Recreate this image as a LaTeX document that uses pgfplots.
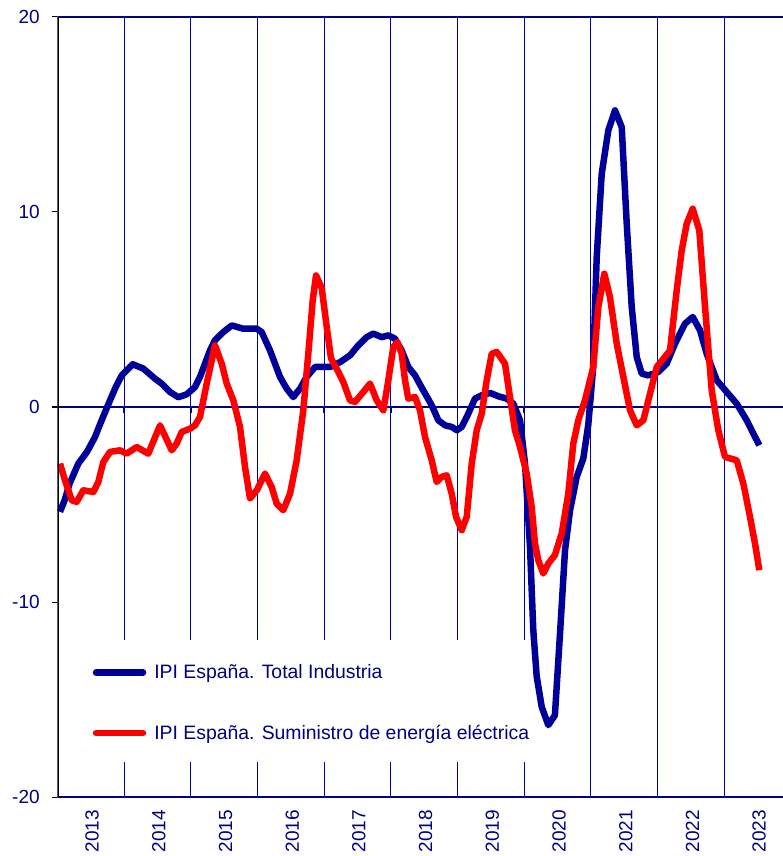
\documentclass[border=0pt]{standalone}
\usepackage{fontspec}
\setmainfont{Liberation Sans}
\usepackage{pgfplots}
\pgfplotsset{compat=1.18}
\definecolor{txtnavy}{RGB}{0,0,128}
\definecolor{ipiblue}{RGB}{0,0,153}
\definecolor{gridblue}{RGB}{0,0,170}
\definecolor{ipired}{RGB}{255,0,0}
\begin{document}
\begin{tikzpicture}
\begin{axis}[
  at={(0pt,0pt)}, anchor=south west,
  scale only axis, width=725.7pt, height=780.6pt,
  xmin=2013, xmax=2023.88, ymin=-20, ymax=20,
  axis line style={draw=none},
  xtick={2013.5,2014.5,2015.5,2016.5,2017.5,2018.5,2019.5,2020.5,2021.5,2022.5,2023.5},
  xticklabels={2013,2014,2015,2016,2017,2018,2019,2020,2021,2022,2023},
  xtick style={draw=none,/pgfplots/major tick length=0pt},
  xticklabel style={yshift=-7pt, xshift=1.5pt, rotate=90, anchor=east, inner sep=0pt,
     font=\fontsize{19}{19}\selectfont, text=txtnavy},
  minor xtick={2014,2015,2016,2017,2018,2019,2020,2021,2022,2023},
  xminorgrids, minor grid style={gridblue, line width=1pt},
  minor tick length=0pt,
  ytick={-20,-10,0,10,20},
  yticklabels={-20,-10,0,10,20},
  tick align=outside,
  ytick style={black, line width=1.2pt},
  major tick length=5.5pt,
  yticklabel style={anchor=east, inner sep=0pt, xshift=-12pt,
     font=\fontsize{19}{19}\selectfont, text=txtnavy},
  legend style={draw=none, fill=none, inner sep=0pt,
     at={(axis cs:2013.529,-13.09)}, anchor=north west,
     font=\fontsize{19.4}{19.4}\selectfont, text=txtnavy,
     row sep=41pt, column sep=6pt},
  legend cell align=left,
  legend image code/.code={\draw[#1, line cap=round] (0pt,0pt) -- (47pt,0pt);},
]
\fill[white] (axis cs:2013,-11.95) rectangle (axis cs:2020.162,-18.19);
\draw[txtnavy, line width=2pt] (axis cs:2013,0) -- (axis cs:2023.88,0);
\pgfplotsinvokeforeach{2014,2015,2016,2017,2018,2019,2020,2021,2022,2023}{
  \draw[txtnavy, line width=1.6pt] (axis cs:#1,0) -- ([yshift=-6pt]axis cs:#1,0);
}
\addplot[ipiblue, line width=6.5pt, line join=round] coordinates {
(2013.040,-5.37) (2013.110,-4.78) (2013.185,-3.92) (2013.315,-2.90) (2013.445,-2.30)
(2013.565,-1.54) (2013.665,-0.68) (2013.790,0.34) (2013.880,1.05) (2013.966,1.62)
(2014.130,2.19) (2014.289,1.97) (2014.465,1.45) (2014.565,1.20) (2014.690,0.77)
(2014.814,0.50) (2014.940,0.65) (2015.064,1.02) (2015.139,1.54) (2015.289,2.90)
(2015.364,3.42) (2015.489,3.84) (2015.615,4.18) (2015.789,4.01) (2015.990,4.01)
(2016.064,3.84) (2016.189,2.90) (2016.339,1.54) (2016.439,0.94) (2016.538,0.51)
(2016.639,0.94) (2016.739,1.54) (2016.864,2.05) (2017.090,2.05) (2017.240,2.30)
(2017.390,2.65) (2017.513,3.16) (2017.639,3.58) (2017.738,3.76) (2017.864,3.58)
(2017.963,3.67) (2018.063,3.50) (2018.163,2.90) (2018.262,2.05) (2018.363,1.62)
(2018.487,0.85) (2018.613,0.09) (2018.712,-0.68) (2018.813,-0.94) (2018.913,-1.02)
(2018.990,-1.19) (2019.063,-1.02) (2019.162,-0.34) (2019.262,0.43) (2019.363,0.60)
(2019.487,0.72) (2019.612,0.55) (2019.738,0.43) (2019.837,0.17) (2019.937,-0.68)
(2020.012,-2.90) (2020.087,-7.17) (2020.136,-11.43) (2020.187,-13.80) (2020.262,-15.36)
(2020.361,-16.30) (2020.460,-15.80) (2020.537,-11.60) (2020.612,-7.34) (2020.687,-5.30)
(2020.787,-3.58) (2020.886,-2.64) (2020.961,-0.90) (2021.031,1.90) (2021.087,7.68)
(2021.162,11.95) (2021.261,14.17) (2021.361,15.20) (2021.462,14.34) (2021.537,9.39)
(2021.612,5.12) (2021.687,2.56) (2021.762,1.71) (2021.861,1.62) (2022.010,1.79)
(2022.136,2.22) (2022.261,3.25) (2022.411,4.27) (2022.526,4.61) (2022.636,3.93)
(2022.736,2.73) (2022.886,1.37) (2023.036,0.77) (2023.186,0.17) (2023.336,-0.68)
(2023.435,-1.36) (2023.525,-1.96)
};
\addlegendentry{IPI España. Total Industria}
\addplot[ipired, line width=6.5pt, line join=round] coordinates {
(2013.040,-2.90) (2013.115,-3.75) (2013.216,-4.78) (2013.291,-4.86) (2013.390,-4.27)
(2013.540,-4.35) (2013.615,-3.84) (2013.690,-2.82) (2013.790,-2.30) (2013.940,-2.22)
(2014.040,-2.39) (2014.190,-2.05) (2014.364,-2.39) (2014.540,-0.94) (2014.715,-2.22)
(2014.790,-1.87) (2014.865,-1.28) (2014.990,-1.11) (2015.064,-0.94) (2015.139,-0.51)
(2015.240,1.20) (2015.364,3.16) (2015.465,2.22) (2015.540,1.20) (2015.639,0.34)
(2015.739,-1.02) (2015.814,-3.07) (2015.889,-4.69) (2015.990,-4.27) (2016.114,-3.41)
(2016.214,-4.10) (2016.289,-4.95) (2016.388,-5.29) (2016.489,-4.44) (2016.589,-2.73)
(2016.688,-0.17) (2016.763,2.73) (2016.829,5.46) (2016.879,6.74) (2016.964,6.10)
(2017.043,4.00) (2017.103,2.50) (2017.213,1.80) (2017.288,1.28) (2017.388,0.34)
(2017.463,0.26) (2017.588,0.77) (2017.688,1.20) (2017.789,0.34) (2017.888,-0.17)
(2017.963,1.37) (2018.037,3.07) (2018.097,3.33) (2018.163,2.73) (2018.213,1.37)
(2018.262,0.43) (2018.363,0.51) (2018.438,-0.17) (2018.513,-1.54) (2018.613,-2.73)
(2018.688,-3.84) (2018.763,-3.58) (2018.838,-3.50) (2018.913,-4.44) (2018.978,-5.63)
(2019.063,-6.31) (2019.138,-5.63) (2019.213,-2.90) (2019.288,-1.19) (2019.363,-0.34)
(2019.438,1.37) (2019.513,2.73) (2019.588,2.82) (2019.712,2.22) (2019.786,0.51)
(2019.861,-1.19) (2019.937,-2.05) (2020.037,-3.41) (2020.112,-5.12) (2020.162,-7.00)
(2020.211,-7.85) (2020.286,-8.53) (2020.361,-8.02) (2020.460,-7.59) (2020.562,-6.48)
(2020.661,-4.44) (2020.736,-1.87) (2020.811,-0.68) (2020.910,0.34) (2021.036,2.05)
(2021.111,5.12) (2021.201,6.83) (2021.286,5.63) (2021.387,3.25) (2021.486,1.54)
(2021.586,-0.17) (2021.687,-0.94) (2021.786,-0.68) (2021.886,0.68) (2021.987,2.05)
(2022.085,2.47) (2022.186,2.90) (2022.286,5.97) (2022.361,8.02) (2022.436,9.39)
(2022.526,10.16) (2022.625,9.05) (2022.711,5.12) (2022.811,0.85) (2022.910,-1.19)
(2023.010,-2.56) (2023.186,-2.73) (2023.285,-3.92) (2023.385,-5.63) (2023.460,-6.99)
(2023.525,-8.36)
};
\addlegendentry{IPI España. Suministro de energía eléctrica}
\draw[txtnavy, line width=2pt] (rel axis cs:0,1) -- (rel axis cs:1,1);
\draw[txtnavy, line width=2pt] (rel axis cs:0,0) -- (rel axis cs:1,0);
\draw[black, line width=2.6pt] (rel axis cs:0,0) -- (rel axis cs:0,1);
\end{axis}
\pgfresetboundingbox
\path[use as bounding box] (-57.3pt,-58.7pt) rectangle (725.7pt,797.3pt);
\end{tikzpicture}
\end{document}
